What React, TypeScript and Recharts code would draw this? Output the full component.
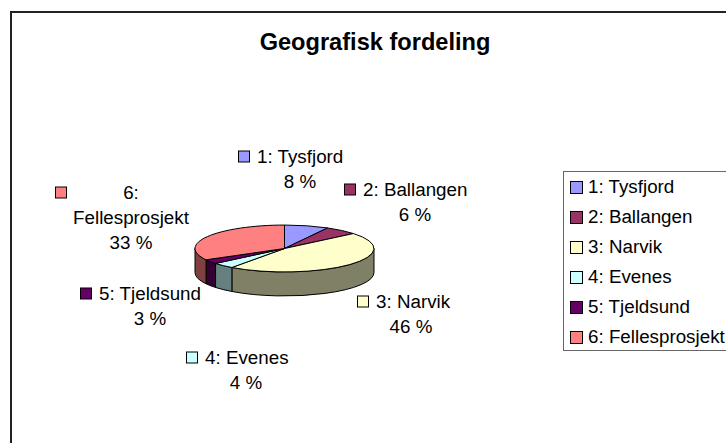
import React from 'react';
import { PieChart, Pie, Legend } from 'recharts';

const names = ['1: Tysfjord', '2: Ballangen', '3: Narvik', '4: Evenes', '5: Tjeldsund', '6: Fellesprosjekt'];
const shares = [8, 6, 46, 4, 3, 33];
const topColors = ['#9999FF', '#993366', '#FFFFCC', '#CCFFFF', '#660066', '#FF8080'];
const wallColors = ['#4C4C80', '#4C1933', '#808066', '#668080', '#330033', '#804040'];

// hand placed callouts, the way they sit in the original sheet
const calloutLines = [
  ['1: Tysfjord'],
  ['2: Ballangen'],
  ['3: Narvik'],
  ['4: Evenes'],
  ['5: Tjeldsund'],
  ['6:', 'Fellesprosjekt'],
];
const calloutCenter = [300, 415, 411, 246, 150, 131];
const calloutTop = [157, 190, 302, 358, 294, 193];
const calloutSwatch = [238, 344, 357, 186, 80, 55];

const FONT = '"Liberation Sans", Arial, sans-serif';
const FONT_SIZE = 18.8;
const LINE = 25;
const SQUASH = 0.262;
const DEPTH = 24;

const tableData = names.map((name, i) => ({
  name,
  value: shares[i],
  fill: topColors[i],
  wall: wallColors[i],
}));

const Slice = (props: any) => {
  const { cx, cy, outerRadius, startAngle, endAngle, fill, wall } = props;
  const rx = outerRadius;
  const ry = outerRadius * SQUASH;
  const pt = (deg: number, dy = 0) => {
    const r = (deg * Math.PI) / 180;
    return `${cx + rx * Math.cos(r)} ${cy - ry * Math.sin(r) + dy}`;
  };
  const large = startAngle - endAngle > 180 ? 1 : 0;
  const top = `M${cx} ${cy}L${pt(startAngle)}A${rx} ${ry} 0 ${large} 1 ${pt(endAngle)}Z`;

  // only the front half of the rim shows a wall
  const s = Math.min(startAngle, 0);
  const e = Math.max(endAngle, -180);
  const side =
    s > e
      ? `M${pt(s)}A${rx} ${ry} 0 0 1 ${pt(e)}L${pt(e, DEPTH)}A${rx} ${ry} 0 0 0 ${pt(s, DEPTH)}Z`
      : null;

  return (
    <g>
      {side && <path d={side} fill={wall} stroke="#000" strokeWidth={1} />}
      <path d={top} fill={fill} stroke="#000" strokeWidth={1} />
    </g>
  );
};

const renderCallout = (props: any) => {
  const { index, value, fill } = props;
  const lines = calloutLines[index];
  const center = calloutCenter[index];
  const y = calloutTop[index];
  return (
    <g key={index} fontFamily={FONT} fontSize={FONT_SIZE} fill="#000">
      <rect x={calloutSwatch[index] + 0.5} y={y - 6} width={11} height={11} fill={fill} stroke="#000" />
      {lines.map((line, i) => (
        <text
          key={line}
          x={index === 5 ? center : calloutSwatch[index] + 19}
          y={y + 6 + i * LINE}
          textAnchor={index === 5 ? 'middle' : 'start'}
        >
          {line}
        </text>
      ))}
      <text x={center} y={y + 6 + lines.length * LINE} textAnchor="middle">
        {value} %
      </text>
    </g>
  );
};

const LegendBox = ({ payload }: any) => (
  <div
    style={{
      width: 180,
      height: 180,
      boxSizing: 'border-box',
      border: '1.5px solid #666',
      background: '#fff',
      fontFamily: FONT,
      fontSize: FONT_SIZE,
      color: '#000',
    }}
  >
    {(payload || []).map((entry: any) => (
      <div key={entry.value} style={{ height: 30, display: 'flex', alignItems: 'center', whiteSpace: 'nowrap' }}>
        <span
          style={{
            width: 11,
            height: 11,
            marginLeft: 6,
            marginRight: 5,
            background: entry.color,
            border: '1px solid #000',
            flex: 'none',
          }}
        />
        {entry.value}
      </div>
    ))}
  </div>
);

export default function App() {
  return (
    <div style={{ position: 'absolute', left: 0, top: 0, width: 726, height: 443, overflow: 'hidden', background: '#fff' }}>
      {/* sheet frame runs off the right and bottom of the picture */}
      <div style={{ position: 'absolute', left: 10, top: 11, width: 800, height: 500, borderLeft: '2px solid #222', borderTop: '2px solid #222' }} />
      <div
        style={{
          position: 'absolute',
          left: 12,
          width: 726,
          top: 29,
          textAlign: 'center',
          fontFamily: FONT,
          fontWeight: 700,
          fontSize: 23.6,
          color: '#000',
        }}
      >
        Geografisk fordeling
      </div>
      <PieChart
        width={726}
        height={443}
        margin={{ top: 0, right: 0, bottom: 0, left: 0 }}
        style={{ position: 'absolute', left: 0, top: 0 }}
      >
        <Pie
          data={tableData}
          dataKey="value"
          nameKey="name"
          cx={284.5}
          cy={248.5}
          outerRadius={89.5}
          startAngle={90}
          endAngle={-270}
          stroke="#000"
          isAnimationActive={false}
          shape={Slice}
          label={renderCallout}
          labelLine={false}
        />
        <Legend
          layout="vertical"
          align="right"
          verticalAlign="top"
          content={LegendBox}
          wrapperStyle={{ left: 563, top: 171, right: 'auto', width: 180 }}
        />
      </PieChart>
    </div>
  );
}
